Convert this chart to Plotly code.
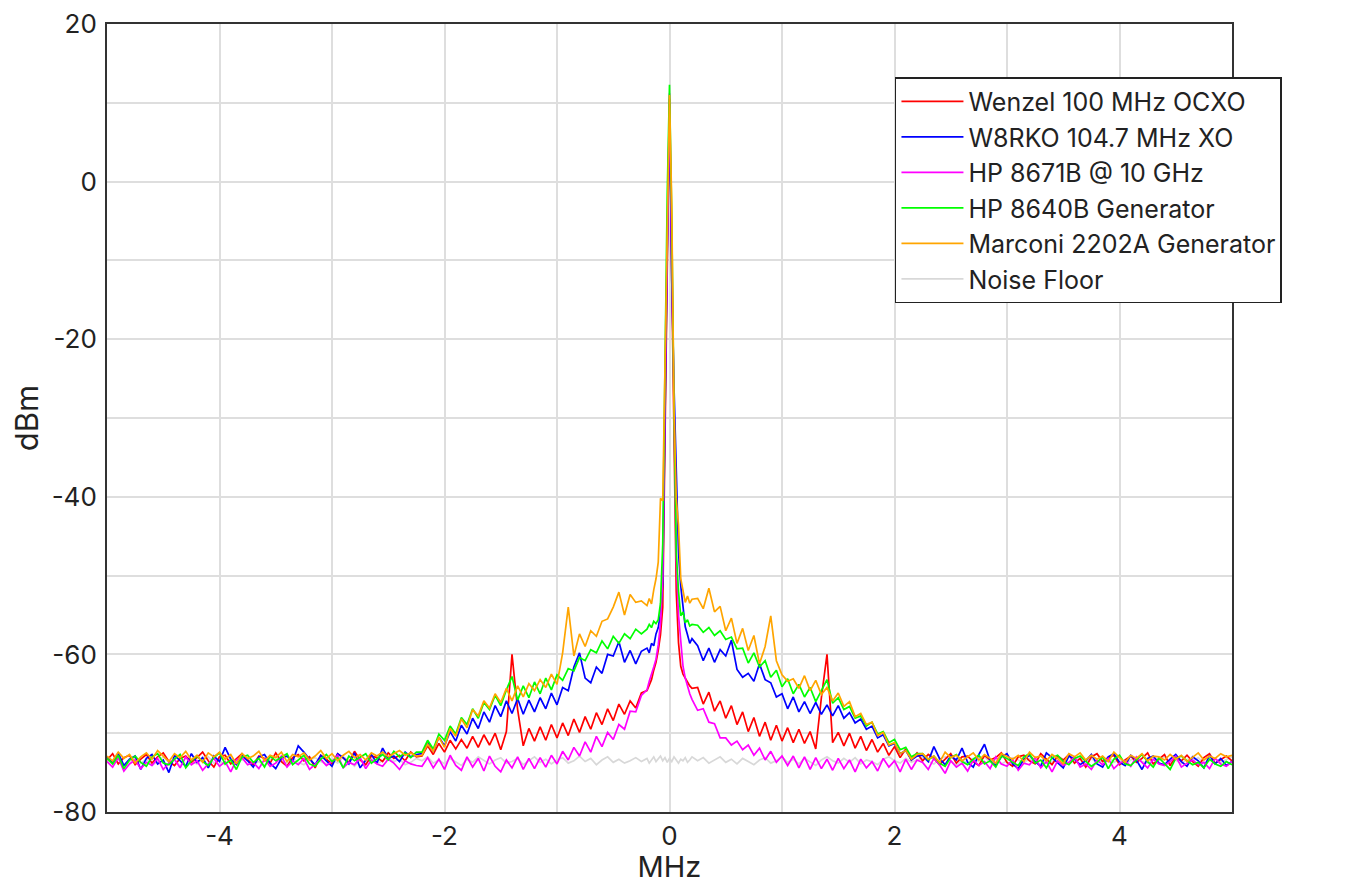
import numpy as np
import plotly.graph_objects as go

# Spectrum analyser sweeps.
# Each source has three pieces: lower sideband (-5 .. -0.25 MHz, 50 kHz bins),
# the carrier region (-0.2 .. 0.2 MHz, 20 kHz bins) and upper sideband (0.25 .. 5 MHz).

wenzel_lo = [
    -73.4, -72.6, -73.9, -73.1, -72.8, -74.0, -73.3, -72.7,
    -73.8, -73.0, -72.5, -73.6, -74.1, -73.2, -72.9, -73.7,
    -73.1, -72.4, -73.5, -74.3, -73.0, -72.8, -73.9, -73.3,
    -72.6, -73.4, -74.0, -72.9, -73.2, -73.8, -72.5, -73.6,
    -74.2, -73.1, -72.7, -73.5, -73.0, -74.4, -72.8, -73.3,
    -73.9, -72.6, -73.2, -73.7, -72.3, -73.4, -74.0, -72.9,
    -73.1, -73.6, -72.5, -73.2, -72.8, -73.5, -72.4, -73.0,
    -72.9, -71.6, -72.7, -71.3, -72.4, -70.9, -72.0, -70.8,
    -71.9, -70.4, -71.8, -70.2, -71.5, -70.0, -72.1, -69.8,
    -60.0, -67.0, -71.6, -69.4, -71.0, -69.2, -70.9, -68.9,
    -70.6, -68.7, -70.3, -68.2, -69.9, -67.9, -69.5, -67.4,
    -68.9, -66.9, -68.4, -66.3, -67.6, -65.9, -66.8, -64.9,
]
wenzel_mid = [
    -64.6, -63.8, -63.2, -62.0, -61.0, -59.5, -57.5,
    -54.0, -30.5, -8.0, 10.5, -12.0, -33.0, -52.0,
    -58.5, -61.5, -62.5, -63.0, -63.5, -64.0, -64.3,
]
wenzel_hi = [
    -64.2, -66.3, -64.8, -67.2, -65.9, -68.1, -66.5, -68.9,
    -67.3, -69.8, -68.0, -70.4, -68.6, -70.9, -69.0, -71.0,
    -69.3, -71.2, -69.5, -71.3, -69.8, -72.0, -65.5, -60.0,
    -71.2, -69.9, -71.6, -70.0, -71.9, -70.4, -72.2, -70.8,
    -72.4, -71.3, -72.8, -71.7, -73.1, -72.0, -73.4, -72.5,
    -73.5, -72.7, -73.2, -74.0, -73.3, -72.6, -73.8, -73.0,
    -72.9, -73.6, -74.1, -72.8, -73.4, -73.1, -72.5, -73.7,
    -74.2, -73.0, -72.8, -73.5, -73.9, -72.6, -73.3, -74.0,
    -72.9, -73.4, -72.7, -73.8, -73.2, -74.3, -73.0, -72.6,
    -73.6, -73.1, -72.8, -74.0, -73.4, -72.9, -73.7, -73.2,
    -72.5, -73.9, -73.3, -72.7, -74.1, -73.0, -73.5, -72.8,
    -73.6, -74.2, -73.1, -72.6, -73.8, -73.3, -72.9, -73.5,
]

w8rko_lo = [
    -73.0, -73.8, -72.5, -74.1, -73.3, -72.9, -74.6, -73.2,
    -72.7, -73.9, -73.4, -75.0, -72.8, -73.5, -74.2, -72.6,
    -73.7, -73.1, -74.4, -72.9, -73.6, -71.8, -73.3, -74.0,
    -72.8, -73.5, -74.3, -73.0, -72.7, -73.8, -74.5, -73.2,
    -72.9, -73.6, -71.6, -72.4, -73.3, -74.0, -72.8, -73.5,
    -74.2, -72.6, -73.1, -73.9, -72.5, -74.4, -73.4, -72.7,
    -73.8, -71.9, -73.2, -72.9, -73.6, -72.4, -73.0, -72.7,
    -72.6, -71.2, -72.3, -70.5, -71.6, -69.8, -71.0, -69.0,
    -70.1, -68.1, -69.4, -67.3, -68.6, -66.5, -67.9, -65.9,
    -67.5, -65.6, -67.6, -65.8, -67.3, -65.5, -66.9, -64.9,
    -66.4, -64.2, -64.6, -61.6, -59.8, -63.0, -63.6, -61.6,
    -62.4, -60.0, -60.2, -58.4, -61.0, -59.5, -61.2, -59.6,
]
w8rko_mid = [
    -59.2, -59.8, -58.6, -58.9, -57.4, -56.6, -54.8,
    -51.0, -33.0, -9.0, 10.0, -12.5, -26.0, -38.0,
    -47.0, -51.3, -54.0, -56.5, -57.5, -58.6, -58.0,
]
w8rko_hi = [
    -58.9, -60.8, -59.2, -61.0, -59.4, -60.2, -58.2, -61.9,
    -62.9, -62.4, -63.4, -61.2, -63.2, -63.6, -65.4, -65.0,
    -66.9, -65.4, -67.3, -66.0, -67.5, -66.1, -67.6, -66.4,
    -67.8, -66.5, -68.1, -67.4, -68.7, -68.2, -69.5, -69.1,
    -70.6, -70.2, -71.6, -71.3, -72.6, -72.2, -73.4, -72.9,
    -72.8, -73.6, -71.7, -73.2, -74.0, -72.9, -73.4, -71.9,
    -73.7, -74.3, -72.7, -71.4, -73.5, -74.1, -73.0, -72.6,
    -73.9, -74.5, -73.3, -72.8, -73.6, -74.2, -72.5, -73.1,
    -73.8, -74.4, -72.9, -73.3, -74.0, -73.5, -72.7, -73.9,
    -74.3, -73.0, -72.6, -73.7, -74.1, -72.8, -73.4, -74.6,
    -73.2, -72.9, -73.8, -74.0, -73.3, -72.7, -73.6, -74.2,
    -73.0, -73.5, -74.4, -72.8, -73.9, -73.2, -74.1, -73.6,
]

hp8671_lo = [
    -73.6, -74.3, -73.1, -74.8, -73.9, -73.4, -74.5, -73.7,
    -74.1, -73.2, -74.6, -73.8, -73.3, -74.4, -73.0, -74.0,
    -73.5, -74.7, -73.9, -73.2, -74.2, -73.6, -74.9, -73.4,
    -73.1, -74.0, -73.7, -74.5, -73.3, -74.2, -73.8, -72.9,
    -74.3, -73.5, -74.0, -73.2, -74.6, -73.9, -73.3, -74.1,
    -73.6, -72.8, -74.4, -73.7, -74.0, -73.1, -74.5, -73.4,
    -73.9, -74.2, -73.3, -73.8, -74.6, -73.5, -73.9, -74.1,
    -74.2, -73.1, -74.4, -73.3, -74.6, -72.8, -74.1, -74.7,
    -73.0, -74.3, -73.2, -74.8, -72.9, -74.2, -74.9, -73.4,
    -74.4, -73.0, -74.6, -73.2, -74.5, -73.1, -74.3, -72.8,
    -73.9, -72.3, -73.4, -71.8, -72.9, -71.1, -72.4, -70.4,
    -71.7, -69.9, -70.8, -68.9, -69.5, -67.2, -67.3, -65.2,
]
hp8671_mid = [
    -64.5, -63.4, -62.6, -61.6, -60.6, -58.8, -56.0,
    -50.0, -27.0, -5.0, 11.2, -8.5, -31.0, -48.0,
    -55.0, -58.5, -61.5, -63.0, -64.2, -65.0, -65.7,
]
hp8671_hi = [
    -67.1, -66.9, -68.6, -68.8, -70.6, -70.6, -71.5, -71.0,
    -72.1, -71.5, -72.8, -71.9, -73.4, -72.3, -73.7, -72.9,
    -74.1, -72.9, -74.4, -73.0, -74.6, -73.1, -74.5, -73.3,
    -74.7, -73.2, -74.5, -73.4, -74.9, -73.3, -74.4, -73.6,
    -74.8, -73.2, -74.3, -73.5, -74.9, -73.3, -74.6, -73.4,
    -73.7, -74.6, -73.2, -74.0, -75.1, -73.5, -74.3, -73.8,
    -74.8, -73.4, -74.1, -73.6, -74.5, -73.0, -73.9, -74.2,
    -73.3, -74.7, -73.8, -74.0, -73.1, -74.4, -73.6, -74.9,
    -73.5, -74.1, -73.7, -73.0, -74.3, -73.9, -74.6, -73.4,
    -74.0, -73.2, -74.5, -73.8, -73.5, -74.2, -73.0, -73.7,
    -74.4, -73.3, -73.9, -74.1, -73.6, -72.9, -74.3, -73.8,
    -73.4, -74.0, -73.7, -74.5, -73.2, -73.9, -74.2, -73.6,
]

hp8640_lo = [
    -73.2, -73.9, -72.8, -74.5, -73.4, -72.9, -73.7, -74.2,
    -73.0, -72.6, -73.8, -74.0, -73.3, -72.7, -74.4, -73.5,
    -72.9, -73.6, -74.1, -73.1, -72.5, -73.9, -73.4, -74.6,
    -73.0, -72.8, -73.7, -73.2, -74.3, -72.9, -73.5, -73.1,
    -72.6, -74.0, -73.4, -72.8, -73.9, -74.2, -73.3, -72.7,
    -73.6, -73.1, -74.4, -72.9, -73.5, -73.0, -72.6, -73.8,
    -73.2, -72.7, -73.4, -72.3, -73.0, -72.5, -73.1, -72.4,
    -72.4, -70.9, -72.0, -70.1, -70.9, -69.1, -70.1, -68.0,
    -68.9, -66.9, -68.1, -66.1, -67.0, -65.2, -66.5, -64.5,
    -62.8, -65.8, -64.0, -65.5, -63.5, -65.0, -63.0, -64.5,
    -62.6, -63.3, -61.8, -62.1, -60.4, -60.8, -59.4, -59.8,
    -58.3, -59.3, -57.7, -58.6, -57.4, -58.0, -56.8, -57.4,
]
hp8640_mid = [
    -56.8, -56.2, -56.6, -55.8, -56.1, -55.6, -53.5,
    -46.0, -23.3, -1.5, 12.3, -4.7, -28.9, -47.0,
    -52.0, -55.1, -54.6, -56.0, -55.6, -56.4, -56.2,
]
hp8640_hi = [
    -56.3, -57.2, -56.6, -57.6, -57.0, -58.1, -57.8, -59.3,
    -59.2, -61.1, -59.8, -61.6, -60.8, -62.9, -62.0, -64.1,
    -63.1, -65.0, -63.8, -65.4, -64.2, -66.0, -64.5, -63.2,
    -66.2, -65.5, -67.0, -66.6, -68.1, -67.8, -69.1, -68.6,
    -70.1, -69.8, -71.2, -70.8, -72.1, -71.8, -73.0, -72.6,
    -72.6, -73.4, -72.9, -73.8, -74.2, -73.1, -72.7, -73.6,
    -74.0, -73.3, -72.8, -73.9, -73.5, -74.3, -72.9, -73.2,
    -73.7, -74.1, -73.0, -72.6, -73.8, -73.4, -74.4, -73.1,
    -72.8, -73.6, -74.0, -73.2, -72.9, -73.5, -74.2, -73.7,
    -73.0, -74.5, -73.3, -72.8, -73.9, -74.1, -73.4, -72.7,
    -73.6, -74.3, -73.1, -73.8, -74.6, -73.2, -72.9, -73.5,
    -74.0, -73.7, -74.4, -73.3, -73.9, -74.2, -73.6, -74.0,
]

marconi_lo = [
    -72.9, -73.5, -72.4, -73.2, -72.7, -73.8, -73.0, -72.5,
    -73.3, -72.2, -72.9, -73.6, -72.6, -73.1, -72.3, -73.4,
    -72.8, -73.7, -72.5, -73.0, -72.4, -73.3, -72.7, -73.9,
    -72.6, -73.2, -72.9, -72.3, -73.5, -72.8, -73.1, -72.4,
    -73.6, -72.7, -73.0, -72.5, -73.4, -72.9, -72.2, -73.2,
    -72.6, -73.5, -72.8, -72.3, -73.1, -72.7, -73.4, -72.5,
    -72.9, -72.4, -73.0, -72.6, -72.2, -72.8, -72.5, -72.9,
    -72.8, -71.4, -72.3, -70.5, -71.8, -69.4, -70.4, -68.2,
    -69.3, -67.0, -67.8, -65.9, -66.8, -65.0, -66.1, -64.3,
    -65.9, -64.0, -65.4, -63.7, -64.6, -63.2, -64.2, -62.5,
    -63.8, -59.8, -54.0, -60.2, -57.4, -59.0, -57.0, -57.7,
    -55.8, -55.5, -54.0, -52.1, -55.0, -52.4, -53.4, -53.2,
]
marconi_mid = [
    -53.8, -52.9, -53.6, -51.8, -50.4, -48.3, -40.2,
    -40.5, -23.0, -2.0, 11.0, -3.0, -29.0, -40.2,
    -43.6, -50.4, -52.0, -53.4, -52.6, -53.5, -53.0,
]
marconi_hi = [
    -52.9, -54.2, -51.6, -54.6, -53.9, -57.0, -55.4, -58.6,
    -56.7, -59.5, -57.6, -61.2, -59.0, -55.1, -60.8, -62.6,
    -63.4, -63.1, -64.3, -62.7, -64.6, -63.3, -65.1, -64.2,
    -65.9, -64.9, -66.6, -66.0, -67.9, -67.5, -68.9, -68.6,
    -70.3, -69.9, -71.5, -71.2, -72.6, -72.2, -73.3, -72.7,
    -72.6, -73.3, -72.9, -73.7, -72.4, -73.1, -72.8, -73.5,
    -73.0, -72.5, -73.4, -72.7, -73.2, -73.8, -72.6, -73.0,
    -73.3, -72.8, -73.6, -72.4, -73.1, -72.9, -73.5, -72.7,
    -73.2, -73.9, -72.6, -73.0, -72.5, -73.4, -72.8, -73.3,
    -72.9, -73.6, -72.4, -73.1, -73.7, -72.8, -73.2, -72.6,
    -73.5, -72.9, -73.0, -73.4, -72.7, -73.3, -72.8, -73.6,
    -73.1, -72.5, -73.4, -72.9, -73.2, -72.6, -73.0, -72.8,
]

floor_lo = [
    -73.4, -73.9, -73.1, -74.0, -73.6, -73.2, -73.8, -73.3,
    -74.1, -73.5, -73.0, -73.7, -73.4, -74.2, -73.1, -73.6,
    -73.9, -73.3, -73.0, -73.8, -73.5, -74.0, -73.2, -73.7,
    -73.4, -73.1, -73.9, -73.6, -74.1, -73.3, -73.0, -73.5,
    -73.8, -73.2, -73.7, -74.0, -73.4, -73.1, -73.6, -73.9,
    -73.3, -73.8, -73.0, -73.5, -74.2, -73.4, -73.7, -73.2,
    -73.9, -73.5, -73.1, -73.6, -73.3, -74.0, -73.7, -73.2,
    -73.5, -73.0, -73.8, -73.4, -73.9, -73.2, -73.6, -74.1,
    -73.3, -73.7, -73.0, -73.5, -73.9, -73.4, -73.1, -73.8,
    -73.6, -73.2, -74.0, -73.5, -73.0, -73.7, -73.3, -73.9,
    -73.4, -73.1, -73.8, -73.5, -72.9, -73.6, -73.2, -74.0,
    -73.4, -73.0, -73.7, -73.3, -73.8, -73.5, -73.1, -73.6,
]
floor_mid = [
    -73.2, -73.8, -73.4, -73.0, -73.6, -73.3, -72.9,
    -73.5, -73.1, -73.7, -73.2, -73.6, -73.0, -73.4,
    -73.8, -73.3, -73.5, -73.1, -73.7, -73.4, -73.0,
]
floor_hi = [
    -73.5, -73.1, -73.8, -73.4, -73.0, -73.7, -73.3, -73.9,
    -73.2, -73.6, -74.0, -73.4, -73.1, -73.8, -73.5, -73.0,
    -73.7, -73.3, -73.9, -73.2, -73.6, -74.1, -73.4, -73.0,
    -73.5, -73.8, -73.2, -73.7, -73.1, -73.9, -73.4, -73.6,
    -74.0, -73.3, -73.0, -73.5, -73.8, -73.2, -73.7, -73.4,
    -73.1, -73.6, -73.9, -73.3, -73.0, -73.5, -74.1, -73.4,
    -73.8, -73.2, -73.6, -73.0, -73.7, -73.3, -73.9, -73.5,
    -73.1, -73.4, -73.8, -73.2, -73.6, -74.0, -73.3, -73.7,
    -73.0, -73.5, -73.9, -73.4, -73.1, -73.6, -73.2, -73.8,
    -73.5, -73.0, -73.7, -73.3, -74.0, -73.4, -73.1, -73.6,
    -73.8, -73.2, -73.5, -73.0, -73.7, -73.4, -73.9, -73.3,
    -73.6, -73.1, -73.8, -73.5, -73.2, -73.7, -73.4, -73.0,
]

sources = [
    ("Wenzel 100 MHz OCXO", "#ff0000", wenzel_lo, wenzel_mid, wenzel_hi),
    ("W8RKO 104.7 MHz XO", "#0000ff", w8rko_lo, w8rko_mid, w8rko_hi),
    ("HP 8671B @ 10 GHz", "#ff00ff", hp8671_lo, hp8671_mid, hp8671_hi),
    ("HP 8640B Generator", "#00ff00", hp8640_lo, hp8640_mid, hp8640_hi),
    ("Marconi 2202A Generator", "#ffa500", marconi_lo, marconi_mid, marconi_hi),
    ("Noise Floor", "#d8d8d8", floor_lo, floor_mid, floor_hi),
]

x_ticks = [-4, -2, 0, 2, 4]
y_ticks = [-80, -60, -40, -20, 0, 20]

SIDE_STEP = 0.05   # MHz per bin in the sidebands
MID_STEP = 0.02    # MHz per bin around the carrier


def sweep(lo, mid, hi):
    # frequency of every bin, anchored at the inner edge of each piece
    f_lo = -0.25 - SIDE_STEP * np.arange(len(lo))[::-1]
    f_mid = MID_STEP * (np.arange(len(mid)) - (len(mid) - 1) / 2)
    f_hi = 0.25 + SIDE_STEP * np.arange(len(hi))
    return np.concatenate([f_lo, f_mid, f_hi]), np.array(lo + mid + hi)


fig = go.Figure()

# noise floor first so it sits underneath, but keep it last in the legend
draw_order = [5, 0, 1, 2, 3, 4]
for k in draw_order:
    name, color, lo, mid, hi = sources[k]
    f, p = sweep(lo, mid, hi)
    fig.add_trace(go.Scatter(
        x=f, y=p, name=name, mode="lines",
        line=dict(color=color, width=1.7),
        legendrank=k + 1,
    ))

font = "Inter, Liberation Sans, Arial, sans-serif"
grid = "#dedede"

fig.update_xaxes(range=[-5, 5],
                 tickvals=x_ticks, ticktext=[str(v) for v in x_ticks],
                 showgrid=True, gridcolor=grid, gridwidth=1.5,
                 minor=dict(tickvals=list(range(-5, 6)), showgrid=True,
                            gridcolor=grid, gridwidth=1.5),
                 showline=True, linecolor="#333", linewidth=2, mirror=True,
                 zeroline=False, ticks="", ticklabelstandoff=0,
                 automargin=False,
                 title=dict(text="MHz", standoff=5, font=dict(size=29)),
                 tickfont=dict(size=26, color="#222"))
fig.update_yaxes(range=[-80, 20],
                 tickvals=y_ticks, ticktext=[str(v) for v in y_ticks],
                 showgrid=True, gridcolor=grid, gridwidth=1.5,
                 minor=dict(tickvals=list(range(-80, 21, 10)), showgrid=True,
                            gridcolor=grid, gridwidth=1.5),
                 showline=True, linecolor="#333", linewidth=2, mirror=True,
                 zeroline=False, ticks="", ticklabelstandoff=3,
                 ticklabeloverflow="allow",
                 automargin=False,
                 title=dict(text="dBm", standoff=15),
                 tickfont=dict(size=26, color="#222"))

# the page body adds an 8 px offset, so the figure is a little smaller
fig.update_layout(
    width=1339, height=876,
    margin=dict(l=99, r=115, t=16, b=72),
    plot_bgcolor="white", paper_bgcolor="white",
    font=dict(family=font, size=26, color="#222"),
    legend=dict(x=0.7004, y=0.9327, xanchor="left", yanchor="top",
                bgcolor="white", bordercolor="#222", borderwidth=1.5,
                font=dict(size=25, color="#222"), itemwidth=62,
                traceorder="normal"),
)

fig.write_html("out.html")
